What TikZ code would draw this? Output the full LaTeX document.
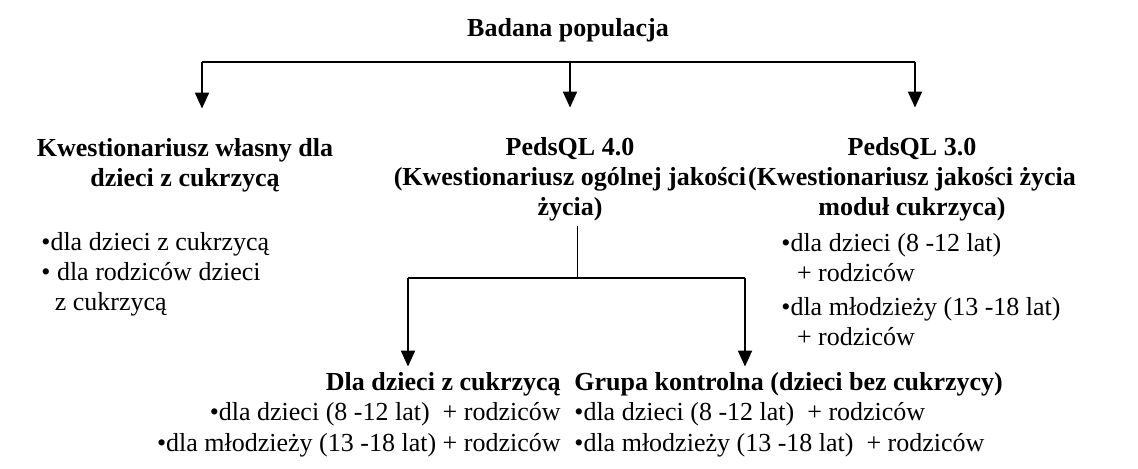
\documentclass[tikz,border=0pt]{standalone}
\usepackage{fontspec}
\setmainfont{Liberation Serif}
\usetikzlibrary{arrows.meta,positioning,calc}
\newcommand{\pkt}{\textbullet}

\begin{document}
\begin{tikzpicture}[x=0.5pt,y=-0.5pt,
    txt/.style={inner sep=0pt, font=\fontsize{13}{15}\selectfont},
    head/.style={txt, font=\fontsize{13}{15}\selectfont\bfseries, align=center},
    bus/.style={line width=1pt},
    arr/.style={line width=1pt, -{Triangle[width=7pt,length=8pt]}}]
\useasboundingbox (0,0) rectangle (1138,469);

\node[head, anchor=base] (pop) at (568,37) {Badana populacja};

\node[head, anchor=base] (wlasny) at (185,187) {Kwestionariusz własny dla\\dzieci z cukrzycą};
\node[head, anchor=base] (peds4) at (570,216) {PedsQL 4.0\\(Kwestionariusz ogólnej jakości\\życia)};
\node[head, anchor=base] (peds3) at (912,216) {PedsQL 3.0\\(Kwestionariusz jakości życia\\moduł cukrzyca)};

\node[txt, align=left, anchor=base west] (wlasnyL) at (41,311)
    {\pkt dla dzieci z cukrzycą\\ \pkt\ dla rodziców dzieci\\ \phantom{\pkt}\,z cukrzycą};
\node[txt, align=left, anchor=base west] (peds3L) at (781,346)
    {\pkt dla dzieci (8 -12 lat)\\ \phantom{\pkt}\ + rodziców\\[2pt]
     \pkt dla młodzieży (13 -18 lat)\\ \phantom{\pkt}\ + rodziców};

\node[txt, align=right, anchor=base east] (chorzy) at (561,451)
    {\textbf{Dla dzieci z cukrzycą}\\ \pkt dla dzieci (8 -12 lat)~ + rodziców\\
     \pkt dla młodzieży (13 -18 lat) + rodziców};
\node[txt, align=left, anchor=base west] (kontrola) at (574,451)
    {\textbf{Grupa kontrolna (dzieci bez cukrzycy)}\\ \pkt dla dzieci (8 -12 lat)~ + rodziców\\
     \pkt dla młodzieży (13 -18 lat)~ + rodziców};

% poziom 1
\coordinate (busL) at (202,62);
\coordinate (busP) at (915,62);
\draw[bus] (busL) -- (busP);
\draw[arr, shorten >=15pt] (busL) -- (busL |- wlasny.north);
\draw[arr, shorten >=15pt] (busL -| peds4) -- (peds4.north);
\draw[arr, shorten >=15pt] (busP) -- (busP |- peds3.north);

% poziom 2
\coordinate (bus2L) at (408,278);
\coordinate (bus2P) at (745,278);
\coordinate (bus2) at (577,278);
\draw[line width=0.5pt, shorten <=2pt] (bus2 |- peds4.south) -- (bus2);
\draw[bus] (bus2L) -- (bus2P);
\draw[arr, shorten >=3pt] (bus2L) -- (bus2L |- chorzy.north);
\draw[arr, shorten >=3pt] (bus2P) -- (bus2P |- kontrola.north);
\end{tikzpicture}
\end{document}
